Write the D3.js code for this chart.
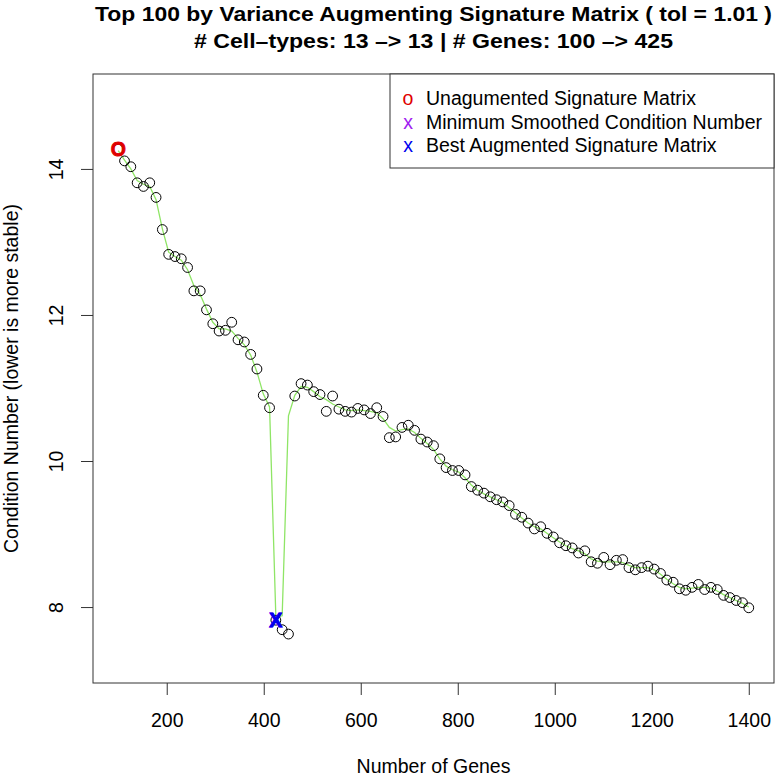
<!DOCTYPE html>
<html>
<head>
<meta charset="utf-8">
<script src="https://cdn.jsdelivr.net/npm/d3@7"></script>
<style>
  body { margin: 0; background: #fff; }
  svg { display: block; font-family: "Liberation Sans", Arial, Helvetica, sans-serif; }
  .axis path { display: none; }
  .axis line { stroke: #333; }
</style>
</head>
<body>
<svg id="chart"></svg>
<script>
// number of genes at each step (100 -> 1400, 13 genes per step)
const nGenes = [100, 113, 126, 139, 152, 165, 178, 191, 204, 217, 230, 243, 256, 269, 282, 295, 308, 321, 334, 347,
  360, 373, 386, 399, 412, 425, 438, 451, 464, 477, 490, 503, 516, 529, 542, 555, 568, 581, 594, 607,
  620, 633, 646, 659, 672, 685, 698, 711, 724, 737, 750, 763, 776, 789, 802, 815, 828, 841, 854, 867,
  880, 893, 906, 919, 932, 945, 958, 971, 984, 997, 1010, 1023, 1036, 1049, 1062, 1075, 1088, 1101, 1114, 1127,
  1140, 1153, 1166, 1179, 1192, 1205, 1218, 1231, 1244, 1257, 1270, 1283, 1296, 1309, 1322, 1335, 1348, 1361, 1374, 1387,
  1400];

// condition number
const condNum = [14.27, 14.11, 14.03, 13.81, 13.76, 13.81, 13.61, 13.17, 12.83, 12.80, 12.77, 12.65, 12.33, 12.33, 12.07, 11.88, 11.78, 11.79, 11.90, 11.66,
  11.63, 11.46, 11.26, 10.90, 10.73, 7.82, 7.69, 7.63, 10.89, 11.06, 11.04, 10.95, 10.91, 10.68, 10.89, 10.71, 10.68, 10.67, 10.72, 10.70,
  10.65, 10.73, 10.61, 10.32, 10.33, 10.46, 10.49, 10.42, 10.30, 10.26, 10.21, 10.03, 9.91, 9.87, 9.87, 9.81, 9.65, 9.60, 9.56, 9.51,
  9.47, 9.44, 9.39, 9.27, 9.23, 9.15, 9.07, 9.10, 9.01, 8.96, 8.88, 8.84, 8.81, 8.74, 8.77, 8.62, 8.60, 8.68, 8.58, 8.64,
  8.65, 8.54, 8.51, 8.54, 8.56, 8.52, 8.46, 8.37, 8.34, 8.25, 8.23, 8.27, 8.31, 8.24, 8.27, 8.24, 8.16, 8.13, 8.09, 8.06,
  7.99];

// smoothed curve (green line)
const smoothed = [14.25, 14.12, 14.00, 13.84, 13.79, 13.76, 13.58, 13.18, 12.86, 12.80, 12.75, 12.62, 12.40, 12.28, 12.08, 11.90, 11.81, 11.81, 11.78, 11.68,
  11.59, 11.45, 11.22, 10.92, 10.74, 7.86, 7.88, 10.62, 10.90, 11.02, 11.01, 10.95, 10.88, 10.84, 10.78, 10.74, 10.70, 10.69, 10.70, 10.69,
  10.68, 10.66, 10.58, 10.46, 10.41, 10.43, 10.44, 10.39, 10.31, 10.24, 10.16, 10.03, 9.93, 9.88, 9.85, 9.77, 9.67, 9.60, 9.55, 9.51,
  9.47, 9.43, 9.36, 9.29, 9.22, 9.15, 9.10, 9.07, 9.01, 8.95, 8.89, 8.84, 8.80, 8.77, 8.73, 8.66, 8.63, 8.62, 8.62, 8.62,
  8.61, 8.57, 8.54, 8.54, 8.54, 8.51, 8.45, 8.38, 8.32, 8.27, 8.25, 8.26, 8.27, 8.27, 8.26, 8.22, 8.17, 8.13, 8.09, 8.05,
  8.00];

const xTicks = [200, 400, 600, 800, 1000, 1200, 1400];
const yTicks = [8, 10, 12, 14];

const unaugmented = { genes: 100, value: 14.27 };
const minSmoothed = { genes: 425, value: 7.82 };
const bestAugmented = { genes: 425, value: 7.82 };

const legendLabels = ["Unagumented Signature Matrix", "Minimum Smoothed Condition Number", "Best Augmented Signature Matrix"];
const legendSymbols = ["o", "x", "x"];
const legendColors = ["#e00000", "#a020f0", "#0000ee"];

const titleLines = ["Top 100 by Variance Augmenting Signature Matrix ( tol = 1.01 )",
  "# Cell\u2013types: 13 \u2013> 13 | # Genes: 100 \u2013> 425"];

class ConditionPlot {
    constructor(_config, _data) {
        this.config = {
            parentElement: _config.parentElement,
            containerWidth: _config.containerWidth || 777,
            containerHeight: _config.containerHeight || 777,
            margin: { top: 74, bottom: 94, right: 3, left: 93 },
            fontSize: 19.5
        }
        this.data = _data;
        this.initVis();
    }

    initVis() {
        let vis = this;

        vis.width = vis.config.containerWidth - vis.config.margin.left - vis.config.margin.right;
        vis.height = vis.config.containerHeight - vis.config.margin.top - vis.config.margin.bottom;

        vis.xScale = d3.scaleLinear()
            .domain([48, 1452])
            .range([0, vis.width]);

        vis.yScale = d3.scaleLinear()
            .domain([6.96, 15.30])
            .range([vis.height, 0]);

        vis.svg = d3.select(vis.config.parentElement)
            .attr('width', vis.config.containerWidth)
            .attr('height', vis.config.containerHeight);

        vis.svg.append('rect')
            .attr('width', vis.config.containerWidth)
            .attr('height', vis.config.containerHeight)
            .attr('fill', '#fff');

        vis.chart = vis.svg.append('g')
            .attr('transform', `translate(${vis.config.margin.left},${vis.config.margin.top})`);

        // x axis
        vis.xAxis = d3.axisBottom(vis.xScale)
            .tickValues(xTicks)
            .tickFormat(d3.format('d'))
            .tickSize(12)
            .tickPadding(18);

        vis.xAxisG = vis.chart.append('g')
            .attr('class', 'axis x-axis')
            .attr('transform', `translate(0,${vis.height})`)
            .call(vis.xAxis);
        vis.xAxisG.selectAll('text')
            .attr('font-size', vis.config.fontSize)
            .attr('font-family', '"Liberation Sans", Arial, sans-serif')
            .attr('fill', '#000');

        // y axis, labels parallel to the axis like base R
        vis.yAxis = d3.axisLeft(vis.yScale)
            .tickValues(yTicks)
            .tickSize(12);

        vis.yAxisG = vis.chart.append('g')
            .attr('class', 'axis y-axis')
            .call(vis.yAxis);
        vis.yAxisG.selectAll('text')
            .attr('x', null)
            .attr('dy', null)
            .attr('transform', 'translate(-30,0) rotate(-90)')
            .attr('text-anchor', 'middle')
            .attr('font-size', vis.config.fontSize)
            .attr('font-family', '"Liberation Sans", Arial, sans-serif')
            .attr('fill', '#000');

        // box
        vis.chart.append('rect')
            .attr('width', vis.width)
            .attr('height', vis.height)
            .attr('fill', 'none')
            .attr('stroke', '#333')
            .attr('stroke-width', 1);

        // smoothed line
        let line = d3.line()
            .x(d => vis.xScale(d.genes))
            .y(d => vis.yScale(d.smooth));

        vis.chart.append('path')
            .datum(vis.data)
            .attr('fill', 'none')
            .attr('stroke', '#8fe566')
            .attr('stroke-width', 1.3)
            .attr('d', line);

        // points
        vis.chart.selectAll('.pt')
            .data(vis.data)
            .enter()
          .append('circle')
            .attr('class', 'pt')
            .attr('cx', d => vis.xScale(d.genes))
            .attr('cy', d => vis.yScale(d.value))
            .attr('r', 4.9)
            .attr('fill', 'none')
            .attr('stroke', '#000')
            .attr('stroke-width', 1);

        // highlighted markers
        let markers = [
            { p: unaugmented, sym: 'O', color: legendColors[0] },
            { p: minSmoothed, sym: 'X', color: legendColors[1] },
            { p: bestAugmented, sym: 'X', color: legendColors[2] }
        ];
        vis.chart.selectAll('.marker')
            .data(markers)
            .enter()
          .append('text')
            .attr('class', 'marker')
            .attr('x', d => vis.xScale(d.p.genes))
            .attr('y', d => vis.yScale(d.p.value))
            .attr('dy', '0.36em')
            .attr('text-anchor', 'middle')
            .attr('font-size', 19.5)
            .attr('font-weight', 'bold')
            .attr('fill', d => d.color)
            .attr('stroke', d => d.color)
            .attr('stroke-width', 0.8)
            .text(d => d.sym);

        // legend
        let legend = vis.chart.append('g')
            .attr('transform', `translate(${vis.width - 384},0)`);
        legend.append('rect')
            .attr('width', 384)
            .attr('height', 94)
            .attr('fill', '#fff')
            .attr('stroke', '#333');
        legendLabels.forEach((lab, i) => {
            legend.append('text')
                .attr('x', 18)
                .attr('y', 31 + i * 23.5)
                .attr('text-anchor', 'middle')
                .attr('font-size', vis.config.fontSize)
                .attr('fill', legendColors[i])
                .text(legendSymbols[i]);
            legend.append('text')
                .attr('x', 36)
                .attr('y', 31 + i * 23.5)
                .attr('font-size', vis.config.fontSize)
                .attr('fill', '#000')
                .text(lab);
        });

        // titles
        let cx = vis.config.margin.left + vis.width / 2;
        vis.svg.selectAll('.title')
            .data(titleLines)
            .enter()
          .append('text')
            .attr('class', 'title')
            .attr('x', cx)
            .attr('y', (d, i) => i === 0 ? 21 : 48)
            .attr('text-anchor', 'middle')
            .attr('font-size', 21)
            .attr('font-weight', 'bold')
            .attr('font-family', '"Liberation Sans Narrow", "Liberation Sans", Arial, sans-serif')
            .attr('textLength', (d, i) => i === 0 ? 677 : 479)
            .attr('lengthAdjust', 'spacingAndGlyphs')
            .text(d => d);

        vis.svg.append('text')
            .attr('x', cx)
            .attr('y', 773)
            .attr('text-anchor', 'middle')
            .attr('font-size', vis.config.fontSize)
            .text('Number of Genes');

        vis.svg.append('text')
            .attr('transform', `translate(18,${vis.config.margin.top + vis.height / 2}) rotate(-90)`)
            .attr('text-anchor', 'middle')
            .attr('font-size', vis.config.fontSize)
            .text('Condition Number (lower is more stable)');
    }
}

let rows = nGenes.map((g, i) => ({ genes: g, value: condNum[i], smooth: smoothed[i] }));
new ConditionPlot({ parentElement: '#chart' }, rows);
</script>
</body>
</html>
